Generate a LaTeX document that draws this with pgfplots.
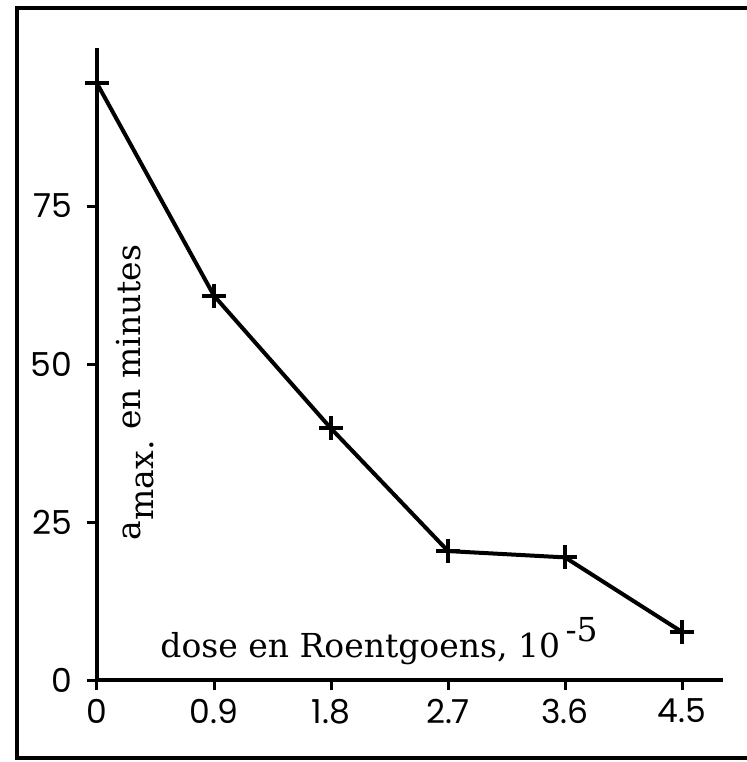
\documentclass[border=0pt]{standalone}
\usepackage{fontspec}
\usepackage{pgfplots}
\pgfplotsset{compat=1.18}
\newfontfamily\tickfont{Poppins}
\newfontfamily\labfont{DejaVu Serif}
\begin{document}
\begin{tikzpicture}
\begin{axis}[
  at={(0,0)}, anchor=south west,
  scale only axis, width=313pt, height=316pt,
  xmin=0, xmax=4.815, ymin=0, ymax=100,
  axis lines=left,
  axis line style={-, line width=2pt, black},
  tick align=outside,
  major tick length=5pt,
  major tick style={line width=1.5pt, black},
  xtick={0,0.9,1.8,2.7,3.6,4.5},
  xticklabels={0,0.9,1.8,2.7,3.6,4.5},
  ytick={0,25,50,75},
  yticklabels={0,25,50,75},
  ticklabel style={font=\tickfont\fontsize{16.5}{18}\selectfont},
  yticklabel style={xshift=-4pt},
  xticklabel style={yshift=-1pt},
  xlabel={dose en Roentgoens, 10\,\raisebox{8pt}{-5}},
  xlabel style={at={(axis description cs:0.09,0.036)}, anchor=base west, font=\labfont\fontsize{16.5}{18}\selectfont},
  ylabel={a\raisebox{-6.5pt}{max.}\ en minutes},
  ylabel style={at={(axis description cs:0.07,0.21)}, anchor=base west, font=\labfont\fontsize{16.5}{18}\selectfont},
  clip=false,
]
\addplot[black, line width=2pt, mark=+, mark size=6pt, mark options={line width=2pt}]
  coordinates {(0,94.4) (0.9,60.8) (1.8,39.8) (2.7,20.4) (3.6,19.4) (4.5,7.6)};
\end{axis}
\draw[line width=2pt] (325pt,336pt) -- (-40pt,336pt) -- (-40pt,-39pt) -- (325pt,-39pt);
\pgfresetboundingbox
\path[use as bounding box] (-48.5pt,-41pt) rectangle (324.5pt,340pt);
\end{tikzpicture}
\end{document}
